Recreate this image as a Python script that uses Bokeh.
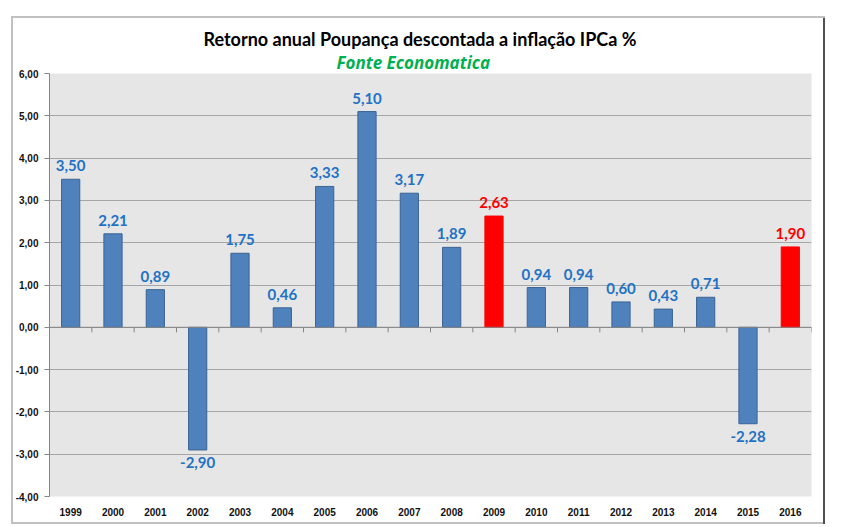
from bokeh.plotting import figure
from bokeh.models import FixedTicker, Title, ColumnDataSource, Span
from bokeh.transform import dodge
from bokeh.embed import file_html
from bokeh.resources import INLINE
from bokeh.core.properties import value

# ---- data ----
years = ["1999", "2000", "2001", "2002", "2003", "2004", "2005", "2006", "2007",
         "2008", "2009", "2010", "2011", "2012", "2013", "2014", "2015", "2016"]
returns = [3.50, 2.21, 0.89, -2.90, 1.75, 0.46, 3.33, 5.10, 3.17,
           1.89, 2.63, 0.94, 0.94, 0.60, 0.43, 0.71, -2.28, 1.90]
highlight_years = ["2009", "2016"]
y_ticks = [-4, -3, -2, -1, 0, 1, 2, 3, 4, 5, 6]
y_tick_labels = ["-4,00", "-3,00", "-2,00", "-1,00", "0,00", "1,00", "2,00",
                 "3,00", "4,00", "5,00", "6,00"]
title_text = "Retorno anual Poupança descontada a inflação IPCa %"
subtitle_text = "Fonte Economatica"

# ---- styles ----
BLUE = "#4F81BD"
BLUE_EDGE = "#3A6494"
RED = "#FF0000"
LABEL_BLUE = "#1F72C4"
LABEL_RED = "#FF0000"

W, H = 844, 527

fill = [RED if y in highlight_years else BLUE for y in years]
edge = [RED if y in highlight_years else BLUE_EDGE for y in years]
lab_col = [LABEL_RED if y in highlight_years else LABEL_BLUE for y in years]
labels = [f"{v:.2f}".replace(".", ",") for v in returns]

src = ColumnDataSource(dict(year=years, value=returns, fill=fill, edge=edge))

pos = [i for i, v in enumerate(returns) if v >= 0]
neg = [i for i, v in enumerate(returns) if v < 0]
src_pos = ColumnDataSource(dict(year=[years[i] for i in pos], value=[returns[i] for i in pos],
                                label=[labels[i] for i in pos], color=[lab_col[i] for i in pos]))
src_neg = ColumnDataSource(dict(year=[years[i] for i in neg], value=[returns[i] for i in neg],
                                label=[labels[i] for i in neg], color=[lab_col[i] for i in neg]))

p = figure(x_range=years, y_range=(y_ticks[0], y_ticks[-1]), width=W, height=H,
           output_backend="svg", toolbar_location=None,
           min_border_left=49, min_border_right=33, min_border_top=73, min_border_bottom=31)

p.background_fill_color = "#E6E6E6"
p.border_fill_color = None
p.outline_line_color = None

# outer chart border drawn as CSS background behind the (transparent) canvas border
p.styles = {
    "background-color": "white",
    "background-image": ("linear-gradient(#C0C0C0,#C0C0C0), linear-gradient(#C0C0C0,#C0C0C0), "
                         "linear-gradient(#505050,#505050), linear-gradient(#C0C0C0,#C0C0C0)"),
    "background-size": "2px 508px, 814px 2px, 2px 508px, 814px 2px",
    "background-position": "11px 16px, 11px 16px, 823px 16px, 11px 522px",
    "background-repeat": "no-repeat",
}

# titles (main title outermost, subtitle next to the frame)
p.title.text = title_text
p.title.align = "left"
p.title.offset = 154
p.title.text_font = "Lato"
p.title.text_font_style = "bold"
p.title.text_font_size = "18px"
p.title.text_color = "#000000"
p.title.standoff = -2
p.add_layout(Title(text=subtitle_text, align="left", offset=287, text_font="Open Sans",
                   text_font_style="bold italic", text_font_size="17px",
                   text_color="#00B050", standoff=0), "above")

# grid
p.xgrid.grid_line_color = None
p.ygrid.grid_line_color = "#A6A6A6"
p.ygrid.grid_line_width = 1

# y axis
p.yaxis.ticker = FixedTicker(ticks=y_ticks)
p.yaxis.major_label_overrides = dict(zip(y_ticks, y_tick_labels))
p.yaxis.axis_line_color = "#868686"
p.yaxis.major_tick_line_color = "#868686"
p.yaxis.major_tick_out = 5
p.yaxis.major_tick_in = 0
p.yaxis.minor_tick_line_color = None
p.yaxis.major_label_standoff = 6
p.yaxis.major_label_text_font = "Liberation Sans"
p.yaxis.major_label_text_font_style = "bold"
p.yaxis.major_label_text_font_size = "10px"
p.yaxis.major_label_text_color = "#111111"

# x axis
p.xaxis.axis_line_color = None
p.xaxis.major_tick_line_color = None
p.xaxis.minor_tick_line_color = None
p.xaxis.major_label_standoff = 5
p.xaxis.major_label_text_font = "Liberation Sans"
p.xaxis.major_label_text_font_style = "bold"
p.xaxis.major_label_text_font_size = "10px"
p.xaxis.major_label_text_color = "#111111"

# bars
p.vbar(x="year", top="value", bottom=0, width=0.43, fill_color="fill",
       line_color="edge", line_width=1, source=src)

# zero axis line and its category ticks
p.add_layout(Span(location=0, dimension="width", line_color="#868686", line_width=1))
p.segment(x0=dodge("year", 0.5, range=p.x_range), y0=0,
          x1=dodge("year", 0.5, range=p.x_range), y1=-0.12,
          line_color="#868686", line_width=1, source=src)

# value labels
p.text(x="year", y="value", text="label", source=src_pos, text_color="color",
       text_align="center", text_baseline="bottom", y_offset=-8,
       text_font=value("Lato"), text_font_style="bold", text_font_size="15px")
p.text(x="year", y="value", text="label", source=src_neg, text_color="color",
       text_align="center", text_baseline="top", y_offset=7,
       text_font=value("Lato"), text_font_style="bold", text_font_size="15px")

open("out.html", "w").write(file_html(p, INLINE))
